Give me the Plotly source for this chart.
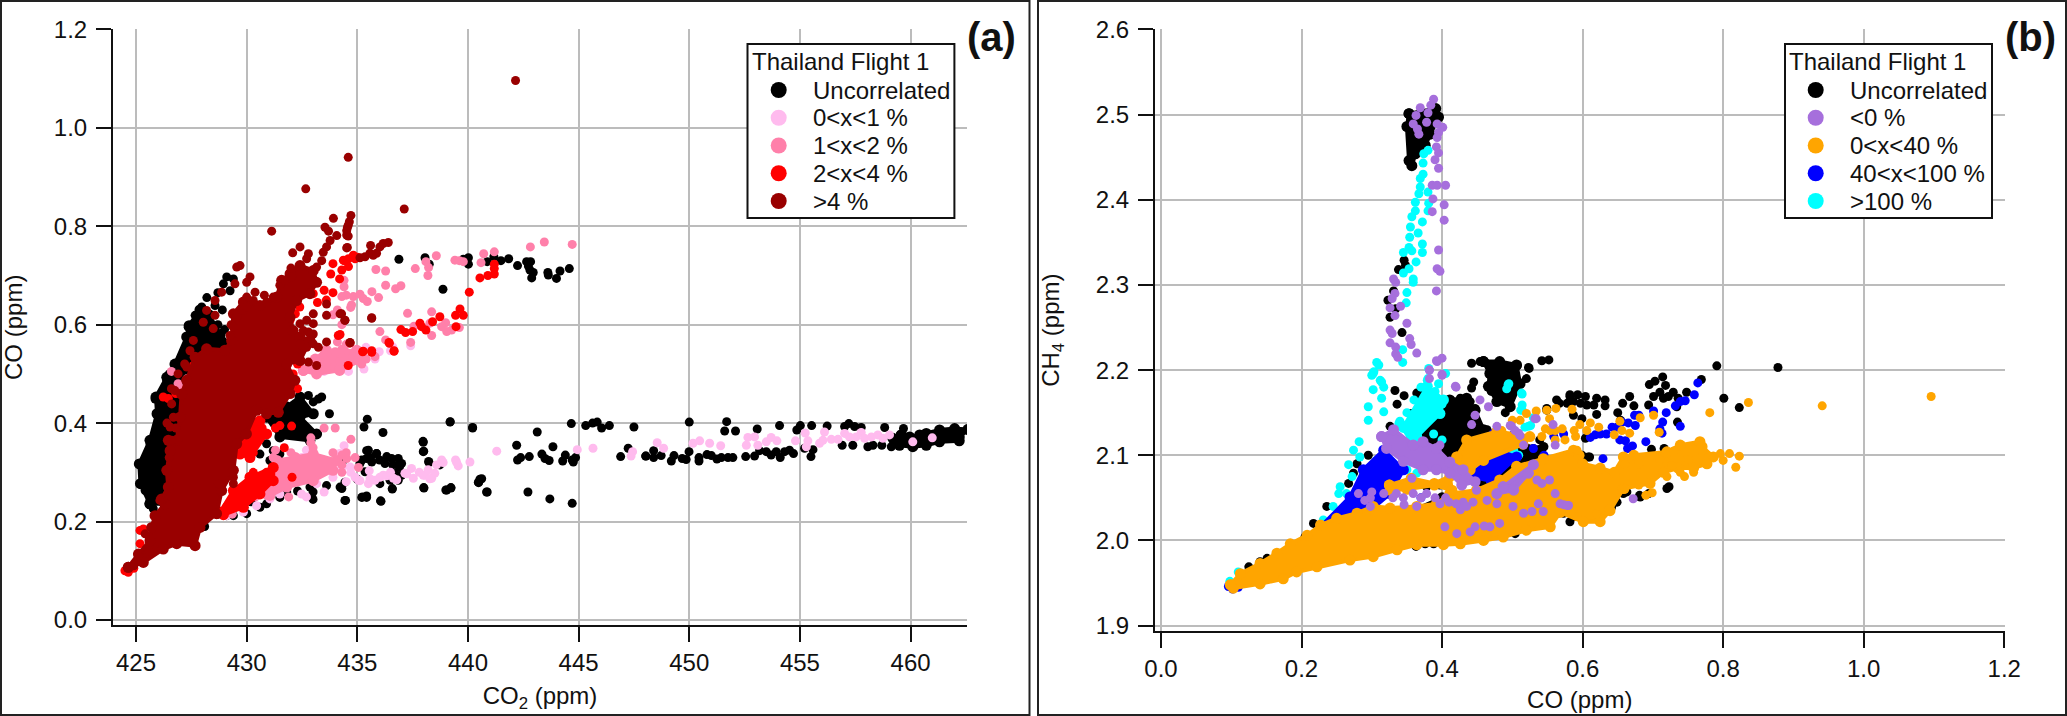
import plotly.graph_objects as go

W, H = 2067, 716

# ---------- Panel (a): CO2 (x, ppm) vs CO (y, ppm) ----------
a_black_pts = [
 (436.88,.733),(438.06,.736),(438.25,.723),(438.87,.672),(440.02,.736),(439.79,.733),(440.02,.723),(441.17,.738),(440.87,.728),(441.49,.73),(441.84,.734),(442.24,.72),(442.65,.728),(442.83,.728),(442.73,.719),(442.8,.711),(442.95,.706),(442.88,.695),(443.61,.706),(443.63,.701),(444.16,.709),(444.0,.694),(444.58,.714),
 (435.45,.408),(435.3,.392),(436.16,.381),(439.2,.403),(440.21,.391),(444.67,.399),(445.32,.395),(445.63,.4),(445.84,.402),(446.04,.39),(446.39,.395),(447.5,.392),(443.13,.382),(437.97,.363),(438.0,.343),(438.22,.322),(442.2,.355),(443.84,.352),(443.34,.337),(443.48,.328),(443.67,.324),(442.77,.332),(442.38,.33),(442.24,.325),(444.4,.335),(444.28,.323),(444.76,.321),(444.86,.33),(444.71,.325),(447.24,.349),(446.9,.332),(448.04,.333),(438.0,.269),(439.0,.264),(439.23,.269),(440.54,.286),(440.48,.279),(440.87,.26),(442.71,.26),(443.7,.246),(444.71,.237),(436.58,.267),(436.02,.277),(436.05,.242),(435.42,.252),(435.23,.25),(434.44,.243),
 (435.2,.325),(435.42,.328),(435.65,.321),(435.5,.345),(435.87,.338),(436.33,.332),(436.55,.328),(436.85,.328),(437,.318),(436.25,.318),(435.12,.318),(435.35,.301),(437,.294),(436.48,.284),(435,.286),(436.7,.298),(436.85,.284),(434.37,.325),(434.3,.267),(438.73,.315),(435.6,.33),(436,.325),(436.6,.315),(436.9,.31),
 (450,.402),(451.69,.403),(451.6,.384),(452.09,.384),(453.07,.388),(454.08,.395),(455.02,.395),(454.86,.386),(455.53,.395),(456.23,.394),(457.21,.399),(457.02,.393),(457.47,.393),(457.77,.391),(458.83,.391),(459.68,.389),(448.03,.333),(448.39,.344),(448.39,.33),(448.73,.334),(449.19,.323),(449.31,.334),(449.68,.328),(449.86,.326),(449.99,.342),(450.44,.33),(450.44,.323),(450.8,.336),(451,.334),(451.25,.327),(451.45,.33),(451.75,.33),(451.97,.33),(452.55,.332),(452.95,.333),(453.18,.344),(453.48,.342),(453.7,.335),(453.93,.342),(454.11,.33),(454.31,.342),(454.53,.345),(454.71,.338),(455.21,.349),(455.59,.346),(455.5,.332),(456.91,.355),(457.39,.355),(458.07,.352),(458.3,.355),(458.7,.355),(459.13,.352),(459.35,.362),
 (432.79,.456),(433.24,.449),(433.39,.453),(433.01,.443),(433.74,.419),(433,.378),(429.1,.212),(429.4,.212),(430,.216),(430.6,.229),(430.9,.236),(431.5,.249),(431.81,.26),(432.86,.27),(433.61,.273),(434.22,.27),(434.44,.28),(433.0,.245),(434.47,.243),(435.2,.249),(435.42,.249),(436.07,.241),(430.6,.337),(430.9,.358),(431.2,.344),(431.5,.337),(431.05,.324),(435.12,.324),(435.42,.344),(435.87,.338),(436.93,.317),(437.98,.361),(437.98,.342),(438.24,.32),(438.01,.268),(439.04,.264),(439.23,.268),(440.84,.26),(440.47,.28),(440.62,.287),(436.58,.266),(439.19,.402),(440.21,.39),(430.2,.24),(432.3,.262),(433,.26),(428.7,.215),(428.1,.19),
 (425.26,.317),(425.33,.283),(425.41,.263),(425.63,.243),(425.78,.226),(425.63,.344),(425.86,.365),(425.63,.358),(426.01,.412),(425.86,.449),(426.31,.466),(426.39,.487),(426.76,.52),(427.06,.534),(427.36,.575),(427.36,.595),(427.67,.619),(427.97,.636),(428.57,.639),(429.1,.697),(429.4,.693),(429.25,.669),(428.95,.683),(427.6,.6),(427.9,.585),(428.3,.62),(428.7,.6),(429,.59),(426.5,.5),(426.1,.43),(425.4,.3),(428.2,.655),(428.7,.665),(428.9,.63),(428.2,.58),(428.6,.575),
]
a_black_mass = [
 (425.63,.236),(425.2,.277),(425.15,.317),(425.63,.365),(425.95,.419),(425.9,.453),(426.39,.493),(426.76,.52),(427.29,.575),(427.4,.598),(427.89,.63),(428.3,.62),(428.8,.58),(429.2,.56),(428,.37),(427,.25),(426.3,.236),None,
 (431.05,.419),(431.8,.433),(432.41,.453),(433.01,.419),(432.41,.412),(433.16,.378),(432.86,.365),(431.5,.372),(430.9,.412),None,
 (459.58,.376),(459.96,.372),(460.41,.376),(460.71,.379),(461.31,.386),(461.99,.389),(462.59,.387),(462.2,.372),(462.2,.364),(461.31,.362),(460.71,.355),(460.1,.352),(459.5,.355),(459.2,.369),
]
a_lightpink_pts = [
 (437.41,.557),(435.99,.545),(436.5,.547),(435.39,.554),(429.1,.212),(429.85,.219),(430.45,.232),(431.05,.246),(431.5,.256),(432.48,.256),(433.16,.277),(433.9,.29),(434.2,.338),
 (441.3,.343),(444.94,.346),(445.65,.349),(447.44,.342),(447.37,.333),(440.09,.321),(439.44,.325),(439.56,.313),(438.81,.325),(438.58,.315),(438.36,.288),(438.06,.294),(438.5,.298),(437.45,.308),(437.53,.288),(437.15,.298),(436.63,.288),(436.17,.294),(435.8,.284),(435.5,.277),(435.54,.303),(435.05,.284),(434.67,.311),(434.5,.281),(434.4,.354),
 (435.12,.283),(435.57,.287),(436.02,.29),(436.33,.293),(436.78,.285),(437.23,.297),(437.98,.294),(438.28,.287),(438.88,.32),(439.49,.32),(434.9,.29),(436.5,.3),(437.8,.3),(438.2,.305),(432.5,.33),
 (448.55,.36),(448.84,.349),(450.17,.359),(450.47,.364),(450.92,.359),(451.42,.354),(452.65,.371),(452.95,.372),(452.58,.355),(453.1,.355),(453.48,.362),(453.7,.371),(453.96,.364),(454.8,.364),(455.24,.38),(455.36,.364),(455.29,.352),(455.89,.359),(456.04,.365),(456.11,.382),(456.42,.367),(456.72,.367),(457.02,.379),(457.24,.372),(457.54,.372),(457.77,.381),(457.92,.369),(458.23,.372),(458.52,.376),(458.75,.369),(459.05,.376),(460.1,.362),(460.98,.37),
 (433.5,.505),(434.6,.505),(435.3,.51),(435.8,.53),(436.6,.555),(432.7,.345),(434.3,.31),(434.7,.3),(432.7,.25),(433.5,.26),
]
a_pink_pts = [
 (442.82,.758),(443.45,.768),(444.71,.763),(441.19,.748),(440.71,.744),(440.59,.726),(439.41,.731),(439.61,.73),(439.79,.728),(438.57,.74),(438.1,.728),(438.22,.716),(437.62,.714),(438.19,.7),(436.28,.709),(435.84,.712),(436.28,.68),(436.97,.679),(436.73,.673),(435.66,.667),(435.96,.655),(434.82,.657),(435.12,.662),(435.27,.653),(435.45,.647),(434.74,.64),(437.27,.623),(438.36,.626),(438.99,.604),(438.81,.596),(439.04,.586),(439.26,.589),(439.61,.594),(438.28,.603),(437.56,.597),(438.36,.578),(436.02,.586),(436.28,.569),(437.41,.564),(434.3,.657),(434.4,.677),(434.4,.69),
 (434.71,.367),(434.52,.328),(434.3,.335),(432.9,.36),(432.9,.37),(433.5,.39),(434.0,.39),(431.3,.345),
 (433,.51),(433.3,.52),(433.6,.52),(433.9,.53),(434.2,.525),(434.5,.53),(434.8,.535),(435,.53),(433.5,.54),(434,.545),(434.3,.55),(435.2,.52),(435.4,.53),(435.8,.535),(434.5,.56),(434.1,.565),(434.3,.6),(434.7,.635),(433.9,.62),(434.1,.63),(434.5,.66),
 (427.1,.47),(426.9,.48),(427.3,.49),(426.6,.505),(429.35,.215),
 (434.9,.33),(434.5,.34),(434.3,.315),(435.05,.31),(431.2,.33),(432,.34),(433,.35),(433.9,.34),(434.3,.3),(431.3,.29),(431.9,.25),(430.4,.25),
]
a_pink_mass = [
 (430.9,.256),(431.36,.324),(432.2,.33),(433.01,.337),(434.07,.324),(433.9,.304),(433.01,.283),(431.81,.27),(431.05,.253),None,
 (432.56,.507),(433.1,.53),(433.6,.548),(434.4,.545),(434.97,.548),(435.12,.527),(434.2,.507),(433.16,.5),
]
a_red_pts = [
 (434.6,.734),(434.82,.741),(434.37,.731),(434.3,.711),(434.6,.718),(434.9,.734),(440.54,.695),(440.9,.70),(441.19,.703),(441.19,.723),(441.19,.714),(440.06,.666),(439.64,.632),(439.44,.619),(439.79,.619),(438.73,.616),(439.46,.596),(438.4,.606),(437.83,.603),(437.9,.596),(438.1,.589),(437.5,.586),(437.18,.584),(436.97,.59),(436.43,.564),(436.66,.547),(435.65,.547),(435.24,.545),(434.22,.58),
 (431.5,.395),(432.03,.394),(431.3,.39),(433.01,.663),(433.5,.67),(433.9,.665),(433.6,.65),(433.2,.645),(432.4,.636),(431.96,.609),(432.2,.622),(434.4,.73),(435,.737),(433.9,.724),(434.2,.693),(433.8,.703),(434.14,.578),(434.67,.563),(435.27,.546),(435.65,.544),(436.45,.562),(436.66,.546),(434.59,.517),
 (425.18,.182),(425.33,.185),(424.5,.1),(424.65,.097),(424.9,.105),(425.63,.134),(425.18,.155),(426.23,.453),(426.46,.45),(427.6,.517),(429.4,.568),(429.7,.568),(426.8,.46),(432.1,.5),(432.3,.52),(432.3,.47),(432.05,.29),(431.7,.35),
 (430.3,.3),(430.9,.3),(429.5,.26),(429.1,.23),(430.3,.34),(429.9,.36),(430.7,.39),(430.3,.4),
]
a_red_mass = [
 (428.8,.219),(429.4,.263),(430.15,.29),(431.2,.31),(431.2,.283),(430.6,.256),(429.85,.229),(428.95,.214),None,
 (429.55,.358),(430.6,.405),(430.9,.378),(430.15,.33),(429.7,.337),
]
a_maroon_pts = [
 (442.15,1.096),(434.59,.94),(432.67,.876),(437.12,.835),(431.13,.79),(434.71,.822),(434.64,.809),(434.55,.797),(434.52,.782),(434.59,.802),(434.52,.791),(433.92,.816),(433.54,.798),(433.7,.79),(434.07,.781),(433.77,.771),(434.59,.78),(434.52,.756),(433.61,.758),(433.46,.747),(433.39,.73),(433.16,.717),(432.41,.758),(432.08,.746),(432.79,.744),(432.71,.734),(429.7,.72),(429.55,.717),(430.15,.697),(430,.686),(429.47,.683),(428.87,.666),(428.57,.649),(430.38,.666),(430,.656),(429.85,.642),(428.19,.629),(428.57,.619),(428.04,.605),(428.49,.592),(427.59,.568),(427.44,.547),(427.29,.514),(426.76,.466),(426.61,.439),(426.69,.412),(426.54,.392),(426.61,.365),(426.16,.243),
 (433.61,.642),(433.61,.619),(433.01,.622),(432.71,.609),(433.01,.602),(434.22,.622),(434.44,.609),(435.65,.613),(434.67,.563),(433.61,.565),(433.24,.554),(433.01,.581),(432.56,.588),(432.79,.524),(433.16,.517),(432.71,.554),(432.41,.541),(429.4,.277),(428.72,.277),(429.4,.29),(429.3,.6),(430.8,.66),(431.5,.68),(432,.715),
 (435.12,.736),(435.35,.738),(435.57,.745),(435.72,.741),(435.87,.745),(436.02,.758),(436.17,.765),(436.4,.767),(435.6,.761),(434.55,.757),(435.65,.614),(434.44,.609),(434.29,.622),(434.67,.564),
 (429.85,.629),(429.55,.615),(429.4,.595),(429.25,.578),(430,.636),(430.3,.649),(430.9,.646),(431.2,.656),(431.73,.69),(432.03,.697),(432.41,.602),(432.79,.585),(433.01,.561),(432.41,.561),(432.26,.534),(426.08,.243),(425.41,.175),(427.2,.52),(426.9,.5),(426.6,.47),(426.4,.4),(426.8,.39),(426.5,.33),(425.6,.14),(425.1,.13),(424.9,.11),
]
a_maroon_mass = [
 (424.65,.107),(425.11,.134),(425.63,.161),(425.71,.188),(425.86,.212),(426.31,.236),(426.16,.246),(426.46,.27),(426.39,.304),(426.54,.344),(426.46,.365),(426.84,.365),(426.99,.412),(427.06,.459),(427.29,.487),(427.67,.534),(428.19,.551),(429.02,.548),(429.32,.568),(429.4,.622),(429.85,.646),(430.6,.639),(431.36,.656),(431.58,.69),(431.96,.703),(432.41,.72),(433.01,.71),(433.16,.686),(432.86,.663),(432.26,.649),(431.96,.615),(432.1,.588),(432.41,.575),(432.86,.568),(432.41,.527),(431.81,.52),(432.18,.487),(431.96,.46),(431.43,.422),(430.9,.419),(430.45,.426),(429.99,.378),(429.55,.358),(429.4,.304),(428.87,.263),(428.64,.216),(427.89,.188),(427.67,.151),(426.84,.155),(426.23,.144),(425.33,.117),
]

# ---------- Panel (b): CO (x, ppm) vs CH4 (y, ppm) ----------
b_black_pts = [
 (.346,2.329),(.348,2.323),(.338,2.318),(.331,2.293),(.323,2.282),(.334,2.272),(.326,2.262),(.343,2.244),
 (.442,2.208),(.454,2.21),(.523,2.203),(.542,2.211),(.552,2.212),(.445,2.186),(.442,2.179),(.333,2.176),(.346,2.17),(.336,2.16),(.364,2.173),(.217,2.02),(.274,2.079),(.279,2.09),(.295,2.1),(.267,2.067),(.236,2.04),(.125,1.969),(.141,1.975),(.151,1.979),(.184,1.996),(.205,2.004),(.363,1.993),(.376,1.996),(.388,1.996),(.336,1.989),(.504,2.008),(.573,2.032),(.587,2.028),(.608,2.028),(.658,2.055),(.681,2.053),(.601,2.098),(.61,2.098),(.507,2.205),(.524,2.202),
 (.582,2.171),(.593,2.171),(.604,2.169),(.62,2.167),(.632,2.165),(.632,2.158),(.567,2.161),(.578,2.161),(.587,2.163),(.597,2.161),(.606,2.159),(.616,2.159),(.549,2.155),(.587,2.147),(.599,2.143),(.62,2.148),(.65,2.15),(.657,2.161),(.673,2.158),(.667,2.169),(.654,2.141),(.604,2.12),(.599,2.1),(.608,2.098),(.698,2.107),(.716,2.108),(.545,2.11),(.703,2.187),(.695,2.183),(.714,2.192),(.718,2.182),(.71,2.174),(.701,2.169),(.694,2.159),(.729,2.174),(.722,2.169),(.736,2.167),(.715,2.167),(.748,2.174),(.734,2.157),(.769,2.189),(.735,2.139),(.791,2.205),(.878,2.203),(.801,2.167),(.823,2.156),(.72,2.061),(.723,2.063),(.694,2.055),(.682,2.051),(.663,2.057),(.608,2.028),(.571,2.033),(.649,2.045),(.632,2.043),(.582,2.022),
 (.411,2.165),(.426,2.167),(.44,2.163),(.447,2.155),(.407,2.145),(.464,2.13),(.369,2.173),(.364,2.165),(.355,2.149),(.326,2.134),(.544,2.11),(.53,2.108),(.539,2.118),(.549,2.153),(.563,2.165),(.582,2.169),(.326,2.036),(.355,2.036),(.378,2.063),(.397,2.065),(.47,2.175),(.5,2.195),(.52,2.19),(.49,2.15),
]
b_black_mass = [
 (.353,2.501),(.391,2.507),(.395,2.497),(.383,2.477),(.376,2.464),(.362,2.454),(.357,2.44),(.353,2.446),(.35,2.486),None,
 (.459,2.21),(.482,2.21),(.506,2.206),(.511,2.184),(.497,2.157),(.478,2.163),(.466,2.181),(.468,2.196),None,
 (.364,2.126),(.378,2.149),(.411,2.165),(.435,2.167),(.447,2.153),(.459,2.13),(.539,2.106),(.544,2.098),(.459,2.067),(.411,2.09),(.388,2.102),None,
 (.345,2.03),(.45,2.02),(.5,2.02),(.64,2.04),(.66,2.07),(.5,2.05),(.4,2.05),
]
b_cyan_pts = [
 (.38,2.458),(.374,2.454),(.373,2.443),(.373,2.43),(.369,2.425),(.369,2.415),(.367,2.407),(.38,2.409),(.362,2.397),(.362,2.387),(.381,2.396),(.38,2.387),(.357,2.38),(.372,2.374),(.355,2.368),(.366,2.361),(.354,2.356),(.372,2.348),(.353,2.344),(.345,2.338),(.357,2.34),(.372,2.338),(.363,2.327),(.353,2.319),(.345,2.314),(.359,2.307),(.359,2.303),(.35,2.291),(.349,2.279),(.344,2.224),(.344,2.209),(.307,2.209),(.31,2.206),(.303,2.198),(.3,2.194),(.312,2.188),(.317,2.18),(.381,2.202),(.379,2.188),(.395,2.184),(.405,2.196),(.376,2.18),
 (.302,2.196),(.314,2.186),(.302,2.177),(.314,2.167),(.295,2.157),(.317,2.151),(.295,2.141),(.282,2.116),(.274,2.106),(.283,2.098),(.267,2.089),(.272,2.075),(.255,2.063),(.253,2.055),(.264,2.055),(.245,2.04),(.231,2.024),(.307,2.094),(.388,2.125),(.4,2.118),(.376,2.101),(.494,2.183),(.513,2.173),(.512,2.153),(.523,2.134),(.501,2.102),(.487,2.098),(.35,2.083),(.364,2.079),(.11,1.963),(.098,1.952),
 (.495,2.184),(.492,2.178),(.514,2.172),(.514,2.159),(.514,2.153),(.53,2.144),(.526,2.135),(.518,2.133),(.502,2.106),(.509,2.1),(.488,2.096),(.35,2.1),(.4,2.09),(.43,2.08),(.45,2.085),
 (.34,2.14),(.35,2.15),(.36,2.165),(.37,2.18),(.38,2.19),(.39,2.175),(.4,2.16),(.37,2.14),
]
b_cyan_mass = [(.345,2.133),(.379,2.181),(.402,2.165),(.397,2.149),(.364,2.122),(.355,2.118),(.34,2.137)]
b_blue_pts = [
 (.764,2.185),(.759,2.171),(.746,2.164),(.739,2.163),(.732,2.158),(.719,2.15),(.701,2.152),(.739,2.134),(.714,2.139),(.71,2.131),(.713,2.126),(.69,2.116),(.671,2.111),(.664,2.108),(.661,2.117),(.653,2.118),(.675,2.135),(.665,2.138),(.674,2.147),(.68,2.147),(.656,2.139),(.649,2.133),(.642,2.133),(.634,2.125),(.625,2.125),(.618,2.124),(.611,2.121),(.629,2.096),(.573,2.125),(.559,2.122),
 (.096,1.946),(.102,1.943),(.11,1.945),(.15,1.957),(.185,1.967),(.473,2.126),(.487,2.122),(.501,2.124),(.53,2.108),(.545,2.1),(.35,2.06),(.37,2.05),
]
b_blue_mass = [
 (.227,2.016),(.269,2.051),(.288,2.083),(.317,2.106),(.345,2.083),(.326,2.055),(.293,2.032),(.241,2.016),None,
 (.44,2.075),(.459,2.09),(.478,2.106),(.506,2.098),(.47,2.07),
]
b_orange_pts = [
 (.836,2.162),(.941,2.158),(1.096,2.169),(.781,2.15),(.701,2.147),(.682,2.144),(.653,2.14),(.656,2.129),(.667,2.126),(.645,2.124),(.623,2.133),(.611,2.138),(.596,2.136),(.606,2.129),(.588,2.129),(.59,2.122),(.575,2.118),(.561,2.118),(.571,2.131),(.561,2.129),(.554,2.129),(.547,2.131),(.542,2.122),(.585,2.154),(.562,2.155),(.549,2.153),(.553,2.143),(.534,2.152),(.52,2.149),(.511,2.141),(.5,2.141),(.485,2.129),(.709,2.127),(.592,2.106),(.823,2.099),(.809,2.102),(.818,2.086),(.796,2.102),(.8,2.094),(.69,2.053),(.699,2.056),(.637,2.037),(.625,2.028),(.62,2.031),(.592,2.028),(.727,2.088),(.739,2.08),(.758,2.08),(.59,2.04),
 (.75,2.095),(.73,2.105),(.77,2.105),(.71,2.095),(.68,2.09),(.66,2.09),(.745,2.075),(.72,2.075),(.68,2.065),(.66,2.06),
]
b_orange_mass = [
 (.099,1.948),(.113,1.961),(.141,1.973),(.165,1.985),(.184,1.996),(.208,2.006),(.227,2.018),(.25,2.026),(.279,2.032),(.302,2.04),(.326,2.038),(.364,2.04),(.392,2.043),(.411,2.055),(.449,2.059),(.482,2.071),(.506,2.087),(.544,2.096),(.587,2.106),(.595,2.1),(.6,2.09),(.625,2.085),(.645,2.08),(.658,2.098),(.673,2.1),(.72,2.104),(.739,2.112),(.767,2.116),(.77,2.11),(.786,2.098),(.777,2.09),(.758,2.085),(.736,2.085),(.715,2.08),(.696,2.067),(.658,2.061),(.639,2.035),(.625,2.022),(.601,2.022),(.568,2.033),(.554,2.016),(.52,2.012),(.487,2.004),(.459,2.0),(.426,1.996),(.402,1.995),(.364,1.995),(.336,1.989),(.302,1.981),(.269,1.977),(.222,1.969),(.193,1.963),(.174,1.955),(.141,1.949),(.103,1.944),None,
 (.421,2.098),(.435,2.118),(.478,2.128),(.525,2.122),(.515,2.113),(.459,2.094),(.44,2.083),(.421,2.09),None,
 (.325,2.065),(.356,2.073),(.389,2.067),(.411,2.075),(.414,2.059),(.389,2.065),(.35,2.06),(.326,2.059),
]
b_purple_pts = [
 (.388,2.518),(.384,2.511),(.369,2.508),(.38,2.502),(.363,2.499),(.378,2.491),(.359,2.489),(.365,2.483),(.367,2.477),(.393,2.489),(.401,2.485),(.395,2.479),(.393,2.473),(.392,2.462),(.395,2.455),(.39,2.447),(.395,2.437),(.386,2.417),(.393,2.417),(.405,2.417),(.387,2.401),(.403,2.394),(.386,2.386),(.403,2.376),(.395,2.341),(.393,2.319),(.397,2.316),(.392,2.293),(.331,2.307),(.334,2.303),(.333,2.29),(.329,2.284),(.341,2.275),(.326,2.273),(.333,2.264),(.326,2.247),(.329,2.243),(.35,2.255),(.354,2.237),(.356,2.23),(.326,2.232),(.334,2.227),(.334,2.219),(.337,2.215),(.364,2.22),(.393,2.21),(.4,2.214),(.382,2.2),(.382,2.19),(.4,2.194),(.42,2.18),
 (.447,2.147),(.442,2.136),(.454,2.165),(.466,2.157),(.532,2.143),(.558,2.136),(.561,2.112),(.516,2.112),(.499,2.134),(.509,2.126),(.478,2.134),(.419,2.181),(.392,2.211),(.382,2.2),(.4,2.195),(.397,2.112),(.357,2.073),(.535,2.071),(.542,2.067),(.553,2.071),(.561,2.055),(.573,2.042),(.58,2.041),(.516,2.032),(.528,2.034),(.537,2.043),(.544,2.034),(.501,2.04),(.482,2.02),(.468,2.016),(.46,2.017),(.447,2.016),(.44,2.01),(.421,2.008),(.404,2.016),(.464,2.047),(.449,2.059),(.478,2.043),(.672,2.049),(.534,2.143),(.568,2.043),(.578,2.041),(.497,2.135),(.504,2.129),(.511,2.123),
 (.281,2.055),(.298,2.05),(.317,2.055),(.33,2.05),(.345,2.05),(.359,2.055),(.37,2.05),(.378,2.055),(.39,2.05),(.397,2.043),(.41,2.045),(.426,2.036),(.444,2.045),(.43,2.045),(.364,2.04),(.346,2.042),(.298,2.04),(.29,2.047),
 (.3,2.057),(.335,2.055),(.405,2.05),(.42,2.043),(.435,2.04),
]
b_purple_mass = [
 (.314,2.122),(.331,2.13),(.359,2.112),(.373,2.116),(.392,2.108),(.411,2.092),(.43,2.083),(.447,2.069),(.428,2.065),(.411,2.079),(.392,2.083),(.373,2.083),(.345,2.093),(.321,2.108),None,
 (.487,2.063),(.53,2.089),(.523,2.079),(.502,2.059),(.478,2.055),
]

# ---------- Ticks and labels ----------
a_x_ticks = [425, 430, 435, 440, 445, 450, 455, 460]
a_y_ticks = [0.0, 0.2, 0.4, 0.6, 0.8, 1.0, 1.2]
b_x_ticks = [0.0, 0.2, 0.4, 0.6, 0.8, 1.0, 1.2]
b_y_ticks = [1.9, 2.0, 2.1, 2.2, 2.3, 2.4, 2.5, 2.6]
legend_title = "Thailand Flight 1"
a_legend_labels = ["Uncorrelated", "0<x<1 %", "1<x<2 %", "2<x<4 %", ">4 %"]
b_legend_labels = ["Uncorrelated", "<0 %", "0<x<40 %", "40<x<100 %", ">100 %"]

# ---------- Styles ----------
BLACK, LPINK, PINK, RED, MAROON = "#000000", "#ffbbee", "#ff80aa", "#ff0000", "#990000"
PURPLE, ORANGE, BLUE, CYAN = "#a66fdc", "#ffa500", "#0000ff", "#00ffff"
FONT = "Liberation Sans, Arial, sans-serif"
GRID = "#bcbcbc"
AXIS = "#111111"
MSIZE = 9


def split(pairs):
    xs = [p[0] if p else None for p in pairs]
    ys = [p[1] if p else None for p in pairs]
    return xs, ys


def closed(pairs):
    """Close each outline of a solid overplotted mass so it fills."""
    out, start = [], None
    for p in pairs:
        if p is None:
            out += [start, None]
            start = None
        else:
            start = start or p
            out.append(p)
    out.append(start)
    return out


fig = go.Figure()


def add(name, color, pts, mass, xa, ya):
    if mass:
        xs, ys = split(closed(mass))
        fig.add_trace(go.Scatter(x=xs, y=ys, mode="lines+markers", fill="toself", fillcolor=color,
                                 line=dict(color=color, width=4), marker=dict(size=MSIZE + 2, color=color),
                                 name=name, showlegend=False, xaxis=xa, yaxis=ya, hoverinfo="skip"))
    xs, ys = split(pts)
    fig.add_trace(go.Scatter(x=xs, y=ys, mode="markers", marker=dict(size=MSIZE, color=color, line=dict(width=0)),
                             name=name, showlegend=False, xaxis=xa, yaxis=ya))


add("Uncorrelated", BLACK, a_black_pts, a_black_mass, "x", "y")
add("0<x<1 %", LPINK, a_lightpink_pts, None, "x", "y")
add("1<x<2 %", PINK, a_pink_pts, a_pink_mass, "x", "y")
add("2<x<4 %", RED, a_red_pts, a_red_mass, "x", "y")
add(">4 %", MAROON, a_maroon_pts, a_maroon_mass, "x", "y")

add("Uncorrelated", BLACK, b_black_pts, b_black_mass, "x2", "y2")
add(">100 %", CYAN, b_cyan_pts, b_cyan_mass, "x2", "y2")
add("40<x<100 %", BLUE, b_blue_pts, b_blue_mass, "x2", "y2")
add("0<x<40 %", ORANGE, b_orange_pts, b_orange_mass, "x2", "y2")
add("<0 %", PURPLE, b_purple_pts, b_purple_mass, "x2", "y2")


def px(v):
    return v / W


def py(v):
    return 1 - v / H


common = dict(showgrid=True, gridcolor=GRID, gridwidth=1.5, zeroline=False, showline=True, linecolor=AXIS,
              linewidth=2, ticks="outside", ticklen=15, tickwidth=2, tickcolor=AXIS,
              tickfont=dict(family=FONT, size=24, color="#111111"), automargin=False, mirror=False)
title_font = dict(family=FONT, size=24, color="#111111")

fig.update_layout(
    width=W, height=H, margin=dict(l=0, r=0, t=0, b=0, autoexpand=False),
    paper_bgcolor="white", plot_bgcolor="white", showlegend=False, font=dict(family=FONT),
    xaxis=dict(domain=[px(113), px(967)], range=[423.96, 462.55], tickvals=a_x_ticks, ticktext=[str(v) for v in a_x_ticks],
               title=dict(text="CO<sub>2</sub> (ppm)", font=title_font, standoff=12), anchor="y", **common),
    yaxis=dict(domain=[py(625.3), py(29.3)], range=[-0.0108, 1.2001], tickvals=a_y_ticks,
               ticktext=[f"{v:.1f}" for v in a_y_ticks], ticklabelstandoff=4,
               title=dict(text="CO (ppm)", font=title_font, standoff=24), anchor="x", **common),
    xaxis2=dict(domain=[px(1155), px(2004.5)], range=[-0.0085, 1.2004], tickvals=b_x_ticks,
                ticktext=[f"{v:.1f}" for v in b_x_ticks],
                title=dict(text="CO (ppm)", font=title_font, standoff=10), anchor="y2", **common),
    yaxis2=dict(domain=[py(631), py(29.3)], range=[1.8937, 2.6001], tickvals=b_y_ticks,
                ticktext=[f"{v:.1f}" for v in b_y_ticks], ticklabelstandoff=4,
                title=dict(text="CH<sub>4</sub> (ppm)", font=title_font, standoff=29), anchor="x2", **common),
)

shapes, notes = [], []


def rect(x0, y0, x1, y1, fill=None, color="#222222", width=2):
    shapes.append(dict(type="rect", xref="paper", yref="paper", x0=px(x0), x1=px(x1), y0=py(y1), y1=py(y0),
                       line=dict(color=color, width=width), fillcolor=fill or "rgba(0,0,0,0)", layer="above"))


def text(s, x, y, size=24, bold=False, anchor="left"):
    notes.append(dict(text=f"<b>{s}</b>" if bold else s, xref="paper", yref="paper", x=px(x), y=py(y), showarrow=False,
                      xanchor=anchor, yanchor="middle", xshift=0, font=dict(family=FONT, size=size, color="#111111"),
                      align="left"))


def legend(box_l, box_r, title_x, mark_x, text_x, labels, colors):
    rect(box_l, 44, box_r, 218, fill="white", color="#111111", width=2)
    text(legend_title, title_x, 61.6)
    for i, (lab, col) in enumerate(zip(labels, colors)):
        cy = 90 + i * 27.75
        shapes.append(dict(type="circle", xref="paper", yref="paper", x0=px(mark_x - 8), x1=px(mark_x + 8),
                           y0=py(cy + 8), y1=py(cy - 8), fillcolor=col, line=dict(width=0), layer="above"))
        text(lab.replace("<", "&lt;").replace(">", "&gt;"), text_x, cy)


rect(1, 1, 1029.5, 715)
rect(1038, 1, 2066, 715)
legend(747.5, 954.4, 749.5, 778.7, 811, a_legend_labels, [BLACK, LPINK, PINK, RED, MAROON])
legend(1785, 1992, 1786.5, 1815.7, 1848, b_legend_labels, [BLACK, PURPLE, ORANGE, BLUE, CYAN])
text("(a)", 991, 37, size=40, bold=True, anchor="center")
text("(b)", 2030, 37, size=40, bold=True, anchor="center")

fig.update_layout(shapes=shapes, annotations=notes)
fig.write_html("out.html", config={"displayModeBar": False},
               post_script="document.body.style.margin='0';")
